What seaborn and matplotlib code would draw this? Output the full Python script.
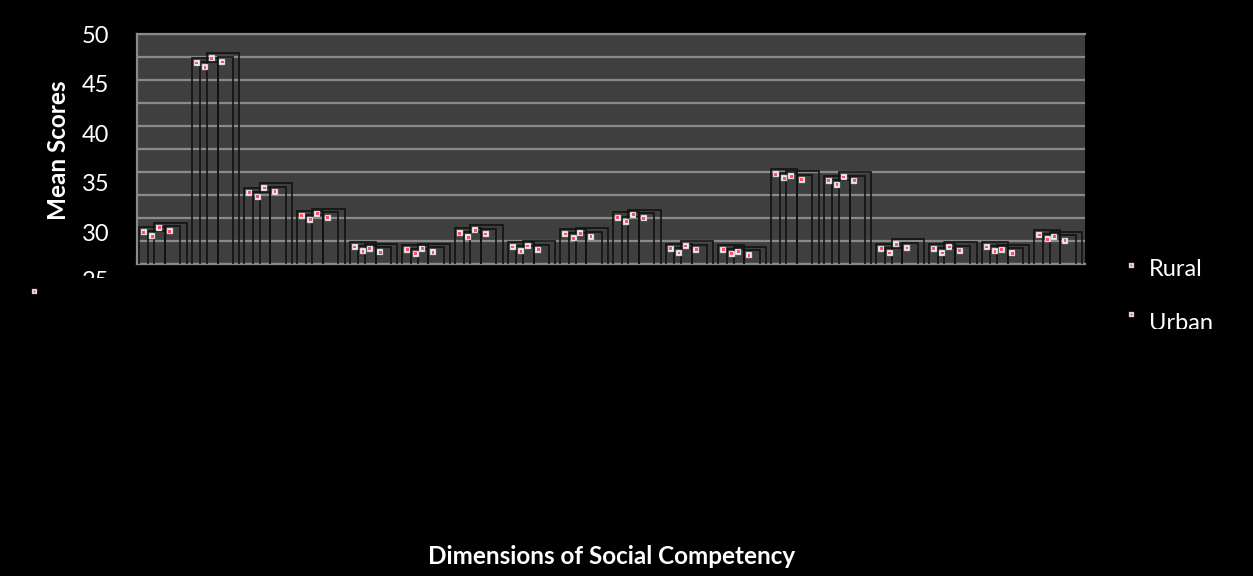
import numpy as np
import pandas as pd
import seaborn as sns
import matplotlib
matplotlib.use("Agg")
import matplotlib.pyplot as plt
from matplotlib.transforms import Bbox

# Mean scores per dimension of social competency
dimensions = list(range(1, 19))
rural = [29.0, 47.4, 33.3, 30.8, 27.4, 27.1, 28.9, 27.4, 28.8,
         30.6, 27.2, 27.1, 35.3, 34.6, 27.2, 27.2, 27.4, 28.7]
urban = [29.5, 47.9, 33.8, 31.0, 27.2, 27.2, 29.2, 27.5, 28.9,
         30.9, 27.5, 26.9, 35.1, 35.0, 27.7, 27.4, 27.1, 28.5]
series = ["Rural", "Urban"]
tick_values = [50, 45, 40, 35, 30, 25]

sns.set_theme(style="dark")
plt.rcParams["font.family"] = ["Lato", "DejaVu Sans"]

W, H = 1253, 576
fig = plt.figure(figsize=(W / 100, H / 100), dpi=100, facecolor="black")

# plot area in pixel coordinates
left, right, top, bottom = 137, 1085, 34, 264
ax = fig.add_axes([left / W, 1 - bottom / H, (right - left) / W, (bottom - top) / H])
ax.set_facecolor("#3f3f3f")

grid_col = "#8a8a8a"
edge_col = "#121212"

# Outline-only bars: an outer and inner frame for each series
idx = np.arange(len(dimensions), dtype=float)
rural_arr = np.array(rural)
urban_arr = np.array(urban)
frames = [
    # (left offset, width, series values, drop below value)
    (-0.46, 0.49, rural_arr, 0.0),
    (-0.30, 0.33, rural_arr, 0.45),
    (-0.17, 0.61, urban_arr, 0.0),
    (0.03, 0.29, urban_arr, 0.40),
]
marker_x, marker_y = [], []
for off, w, vals, drop in frames:
    heights = vals - drop
    sns.barplot(x=idx + off + w / 2, y=heights, native_scale=True, width=w,
                fill=False, color=edge_col, linewidth=1.2, errorbar=None,
                ax=ax, zorder=3)
    marker_x.extend(idx + off + 0.09)
    marker_y.extend(heights - 0.55)

# small picture markers at the upper-left of each frame
pts = pd.DataFrame({"x": marker_x, "y": marker_y})
sns.scatterplot(data=pts, x="x", y="y", marker="s", s=24, color="#ececec",
                edgecolor="#9a9a9a", linewidth=0.3, ax=ax, zorder=4)
sns.scatterplot(data=pts, x="x", y="y", marker="s", s=4, color="#ff4d6a",
                edgecolor="none", ax=ax, zorder=5)

ax.set_xlim(-0.5, len(dimensions) - 0.5)
ax.set_ylim(25, 50)
ax.set_yticks(np.arange(25, 50.01, 2.5))
ax.set_yticklabels([])
ax.set_xticks([])
ax.set_xlabel("")
ax.set_ylabel("")
ax.grid(axis="y", color=grid_col, linewidth=1.6, zorder=1)
ax.set_axisbelow(True)
ax.tick_params(length=0)
for name, sp in ax.spines.items():
    sp.set_visible(name in ("left", "top", "bottom"))
    sp.set_color(grid_col)
    sp.set_linewidth(1.6)

# value labels on the left use their own scale
lab = ax.twinx()
lab.yaxis.set_ticks_position("left")
lab.set_ylim(26.78, 49.9)
lab.set_yticks(tick_values[:-1])
lab.set_yticklabels([str(v) for v in tick_values[:-1]], color="white", fontsize=17)
lab.tick_params(length=0, pad=20)
for sp in lab.spines.values():
    sp.set_visible(False)
lab.grid(False)

# lowest value label is cut by the plot frame
t25 = fig.text(109 / W, 1 - 282 / H, str(tick_values[-1]), color="white",
               fontsize=17, ha="right", va="center")
t25.set_clip_box(Bbox.from_extents(0, H - 278, 200, H))

fig.text(58 / W, 1 - 150 / H, "Mean Scores", rotation=90, color="white",
         fontsize=17.5, fontweight="bold", ha="center", va="center")
fig.text(612 / W, 1 - 557 / H, "Dimensions of Social Competency", color="white",
         fontsize=17.5, fontweight="bold", ha="center", va="center")

# legend entries
legend_y = [270, 324]
marker_y_pix = [265, 314]
for name, ty, my in zip(series, legend_y, marker_y_pix):
    t = fig.text(1149 / W, 1 - ty / H, name, color="white", fontsize=17,
                 ha="left", va="center")
    t.set_clip_box(Bbox.from_extents(1100, H - 329, W, H))
    fig.add_artist(plt.Line2D([1131 / W], [1 - my / H], marker="s", markersize=3.6,
                              markerfacecolor="#ececec", markeredgecolor="#9a9a9a",
                              markeredgewidth=0.3, linestyle="none"))
    fig.add_artist(plt.Line2D([1131 / W], [1 - my / H], marker="s", markersize=1.4,
                              markerfacecolor="#ff4d6a", markeredgecolor="none",
                              linestyle="none"))

# stray marker at the left edge
fig.add_artist(plt.Line2D([34 / W], [1 - 291 / H], marker="s", markersize=3.6,
                          markerfacecolor="#ececec", markeredgecolor="#9a9a9a",
                          markeredgewidth=0.3, linestyle="none"))
fig.add_artist(plt.Line2D([34 / W], [1 - 291 / H], marker="s", markersize=1.4,
                          markerfacecolor="#ff4d6a", markeredgecolor="none",
                          linestyle="none"))

fig.savefig("out.png", dpi=100, facecolor="black")
